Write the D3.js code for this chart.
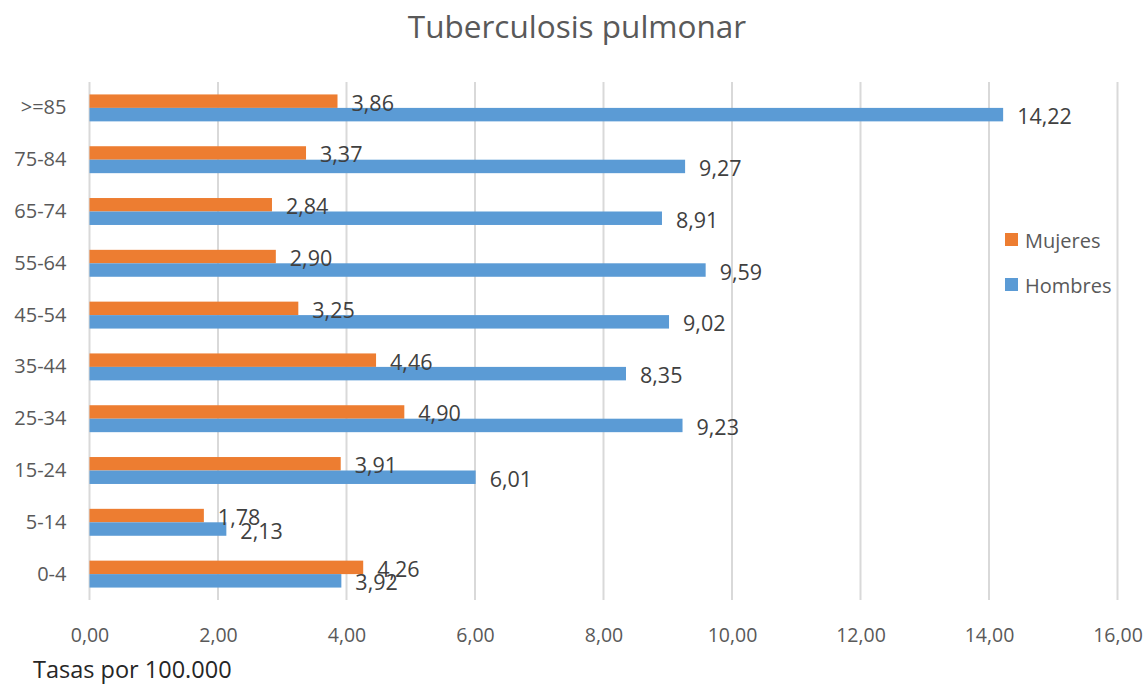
<!DOCTYPE html>
<html>
<head>
<meta charset="utf-8">
<script src="https://cdn.jsdelivr.net/npm/d3@7"></script>
<style>
  body { margin: 0; background: #fff; }
  svg { font-family: "Open Sans", "Noto Sans", sans-serif; }
</style>
</head>
<body>
<div class="canvas"></div>
<script>
var width = 1148,
   height = 684;

// categories, bottom to top as drawn
var ageGroups = ['0-4', '5-14', '15-24', '25-34', '35-44', '45-54', '55-64', '65-74', '75-84', '>=85'];
var mujeres = [4.26, 1.78, 3.91, 4.90, 4.46, 3.25, 2.90, 2.84, 3.37, 3.86];
var hombres = [3.92, 2.13, 6.01, 9.23, 8.35, 9.02, 9.59, 8.91, 9.27, 14.22];
var seriesNames = ['Mujeres', 'Hombres'];
var seriesColors = ['#ED7D31', '#5B9BD5'];
var xTicks = [0, 2, 4, 6, 8, 10, 12, 14, 16];

var margin = {top: 82, right: 30, bottom: 84, left: 89.5};

var fmt = d => d3.format('.2f')(d).replace('.', ',');

var x = d3.scaleLinear()
   .domain([0, 16])
   .range([margin.left, 1117.5]);

var y = d3.scaleBand()
   .domain(ageGroups.slice().reverse())
   .range([margin.top, height - margin.bottom])
   .paddingInner(0.48)
   .paddingOuter(0.24);

var ySeries = d3.scaleBand()
   .domain(seriesNames)
   .range([0, y.bandwidth()]);

const svg = d3.select('.canvas')
   .append('svg')
   .attr('width', width)
   .attr('height', height);

// title
svg.append('text')
   .attr('x', 577)
   .attr('y', 38)
   .attr('text-anchor', 'middle')
   .attr('fill', '#595959')
   .style('font-size', '31.5px')
   .text('Tuberculosis pulmonar');

// gridlines
svg.append('g')
   .selectAll('line')
   .data(xTicks)
   .enter().append('line')
      .attr('x1', d => x(d))
      .attr('x2', d => x(d))
      .attr('y1', margin.top)
      .attr('y2', height - margin.bottom)
      .attr('stroke', '#D9D9D9')
      .attr('stroke-width', 2);

// x axis labels
var xAxis = svg.append('g')
   .attr('transform', `translate(0,${height - margin.bottom})`)
   .call(d3.axisBottom(x).tickValues(xTicks).tickFormat(fmt).tickSize(0).tickPadding(28));
xAxis.select('.domain').remove();
xAxis.selectAll('text')
   .attr('fill', '#595959')
   .style('font-size', '19.5px')
   .style('font-family', '"Open Sans", sans-serif');

// y axis labels
var yAxis = svg.append('g')
   .attr('transform', `translate(${margin.left},0)`)
   .call(d3.axisLeft(y).tickSize(0).tickPadding(23));
yAxis.select('.domain').remove();
yAxis.selectAll('text')
   .attr('fill', '#595959')
   .style('font-size', '20px')
   .style('font-family', '"Open Sans", sans-serif');

// bars
var rows = ageGroups.map((g, i) => ({group: g, values: [mujeres[i], hombres[i]]}));

var groups = svg.append('g')
   .selectAll('g')
   .data(rows)
   .enter().append('g')
      .attr('transform', d => `translate(0,${y(d.group)})`);

groups.selectAll('rect')
   .data(d => d.values.map((v, j) => ({name: seriesNames[j], value: v, color: seriesColors[j]})))
   .enter().append('rect')
      .attr('x', x(0))
      .attr('y', d => ySeries(d.name))
      .attr('width', d => x(d.value) - x(0))
      .attr('height', ySeries.bandwidth())
      .attr('fill', d => d.color);

groups.selectAll('text')
   .data(d => d.values.map((v, j) => ({name: seriesNames[j], value: v})))
   .enter().append('text')
      .attr('x', d => x(d.value) + 14)
      .attr('y', d => ySeries(d.name) + ySeries.bandwidth() / 2 + 1)
      .attr('dominant-baseline', 'central')
      .attr('fill', '#404040')
      .style('font-size', '21.5px')
      .text(d => fmt(d.value));

// legend
var legend = svg.append('g')
   .selectAll('g')
   .data(seriesNames)
   .enter().append('g')
      .attr('transform', (d, i) => `translate(1005,${233 + i * 45})`);

legend.append('rect')
   .attr('width', 13)
   .attr('height', 13)
   .attr('fill', (d, i) => seriesColors[i]);

legend.append('text')
   .attr('x', 20)
   .attr('y', 7)
   .attr('dominant-baseline', 'central')
   .attr('fill', '#595959')
   .style('font-size', '20px')
   .text(d => d);

// footnote
svg.append('text')
   .attr('x', 33)
   .attr('y', 678)
   .attr('fill', '#262626')
   .style('font-size', '23.5px')
   .text('Tasas por 100.000');
</script>
</body>
</html>
